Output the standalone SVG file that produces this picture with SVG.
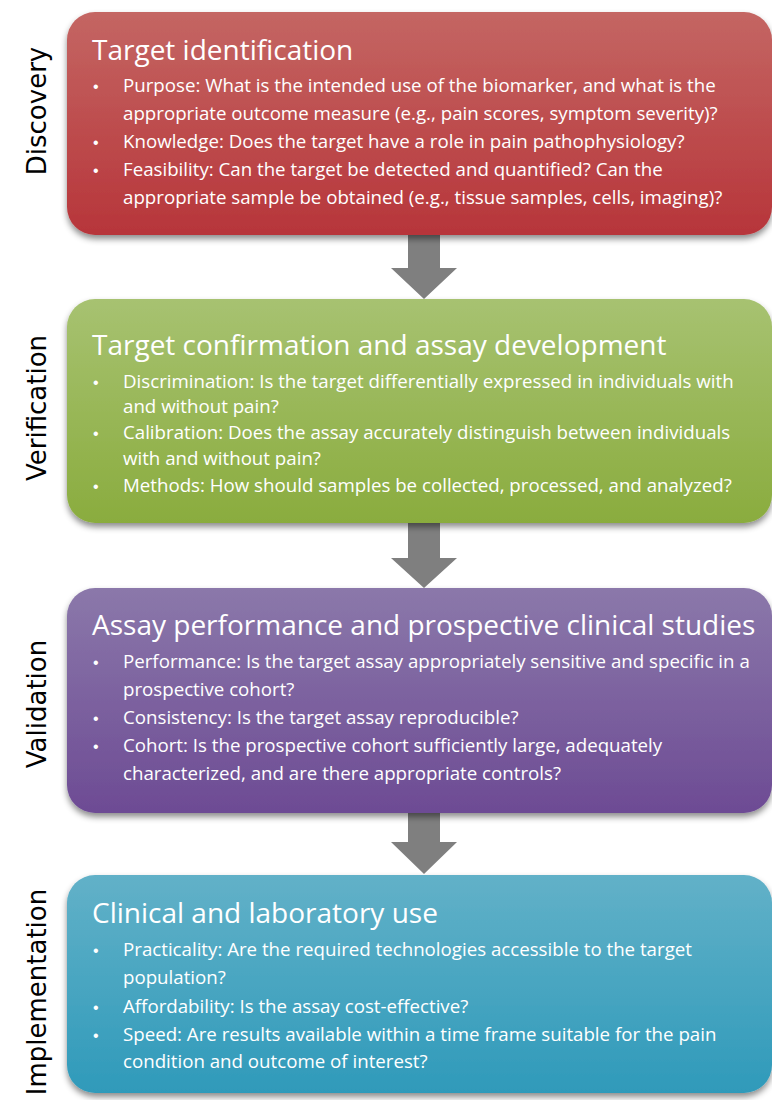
<svg xmlns="http://www.w3.org/2000/svg" width="772" height="1100" viewBox="0 0 772 1100">
<style>
.stage{font-family:"DejaVu Sans","Verdana",sans-serif;font-size:26px;fill:#000}
.title{font-family:"Open Sans","Liberation Sans",sans-serif;font-size:28px;fill:#fff}
.txt{font-family:"Open Sans","Liberation Sans",sans-serif;font-size:18.7px;fill:#fff}
.bul{font-family:"Liberation Sans",sans-serif;font-size:16px;fill:#fff}
.arrow{fill:#7f7f7f}
</style>
<defs>
<filter id="sh" x="-5%" y="-5%" width="110%" height="115%">
<feDropShadow dx="0" dy="4" stdDeviation="3" flood-color="#000" flood-opacity="0.45"/>
</filter>
<linearGradient id="gRed" x1="0" y1="0" x2="0" y2="1"><stop offset="0" stop-color="#c46663"/><stop offset="1" stop-color="#b7353a"/></linearGradient>
<linearGradient id="gGreen" x1="0" y1="0" x2="0" y2="1"><stop offset="0" stop-color="#a7c271"/><stop offset="1" stop-color="#8aac3e"/></linearGradient>
<linearGradient id="gPurple" x1="0" y1="0" x2="0" y2="1"><stop offset="0" stop-color="#8b78aa"/><stop offset="1" stop-color="#6d4b94"/></linearGradient>
<linearGradient id="gBlue" x1="0" y1="0" x2="0" y2="1"><stop offset="0" stop-color="#62b1c8"/><stop offset="1" stop-color="#2f9aba"/></linearGradient>
</defs>
<rect width="772" height="1100" fill="#fff"/>

<g id="connectors">
<polygon class="arrow" points="408,235 440,235 440,268 457,268 424,299 391,268 408,268"/>
<polygon class="arrow" points="408,522 440,522 440,558 457,558 424,588 391,558 408,558"/>
<polygon class="arrow" points="408,811 440,811 440,842 457,842 424,874 391,842 408,842"/>
</g>

<g id="discovery">
<rect x="67" y="12" width="705" height="223" rx="28" fill="url(#gRed)" filter="url(#sh)"/>
<text class="stage" transform="translate(46,111) rotate(-90)" text-anchor="middle">Discovery</text>
<text class="title" x="92" y="60">Target identification</text>
<text class="bul" x="93" y="92">•</text>
<text class="txt" x="123" y="92">Purpose: What is the intended use of the biomarker, and what is the</text>
<text class="txt" x="123" y="120">appropriate outcome measure (e.g., pain scores, symptom severity)?</text>
<text class="bul" x="93" y="148">•</text>
<text class="txt" x="123" y="148">Knowledge: Does the target have a role in pain pathophysiology?</text>
<text class="bul" x="93" y="176">•</text>
<text class="txt" x="123" y="176">Feasibility: Can the target be detected and quantified? Can the</text>
<text class="txt" x="123" y="204">appropriate sample be obtained (e.g., tissue samples, cells, imaging)?</text>
</g>

<g id="verification">
<rect x="67" y="299" width="705" height="224" rx="28" fill="url(#gGreen)" filter="url(#sh)"/>
<text class="stage" transform="translate(46,408) rotate(-90)" text-anchor="middle">Verification</text>
<text class="title" x="92" y="355">Target confirmation and assay development</text>
<text class="bul" x="93" y="388">•</text>
<text class="txt" x="123" y="388">Discrimination: Is the target differentially expressed in individuals with</text>
<text class="txt" x="123" y="413">and without pain?</text>
<text class="bul" x="93" y="439">•</text>
<text class="txt" x="123" y="439">Calibration: Does the assay accurately distinguish between individuals</text>
<text class="txt" x="123" y="465">with and without pain?</text>
<text class="bul" x="93" y="492">•</text>
<text class="txt" x="123" y="492">Methods: How should samples be collected, processed, and analyzed?</text>
</g>

<g id="validation">
<rect x="67" y="588" width="705" height="225" rx="28" fill="url(#gPurple)" filter="url(#sh)"/>
<text class="stage" transform="translate(46,704) rotate(-90)" text-anchor="middle">Validation</text>
<text class="title" x="92" y="635">Assay performance and prospective clinical studies</text>
<text class="bul" x="93" y="668">•</text>
<text class="txt" x="123" y="668">Performance: Is the target assay appropriately sensitive and specific in a</text>
<text class="txt" x="123" y="696">prospective cohort?</text>
<text class="bul" x="93" y="724">•</text>
<text class="txt" x="123" y="724">Consistency: Is the target assay reproducible?</text>
<text class="bul" x="93" y="752">•</text>
<text class="txt" x="123" y="752">Cohort: Is the prospective cohort sufficiently large, adequately</text>
<text class="txt" x="123" y="780">characterized, and are there appropriate controls?</text>
</g>

<g id="implementation">
<rect x="67" y="875" width="705" height="218" rx="28" fill="url(#gBlue)" filter="url(#sh)"/>
<text class="stage" transform="translate(46,992) rotate(-90)" text-anchor="middle">Implementation</text>
<text class="title" x="92" y="923">Clinical and laboratory use</text>
<text class="bul" x="93" y="956">•</text>
<text class="txt" x="123" y="956">Practicality: Are the required technologies accessible to the target</text>
<text class="txt" x="123" y="984">population?</text>
<text class="bul" x="93" y="1013">•</text>
<text class="txt" x="123" y="1013">Affordability: Is the assay cost-effective?</text>
<text class="bul" x="93" y="1041">•</text>
<text class="txt" x="123" y="1041">Speed: Are results available within a time frame suitable for the pain</text>
<text class="txt" x="123" y="1068">condition and outcome of interest?</text>
</g>
</svg>
